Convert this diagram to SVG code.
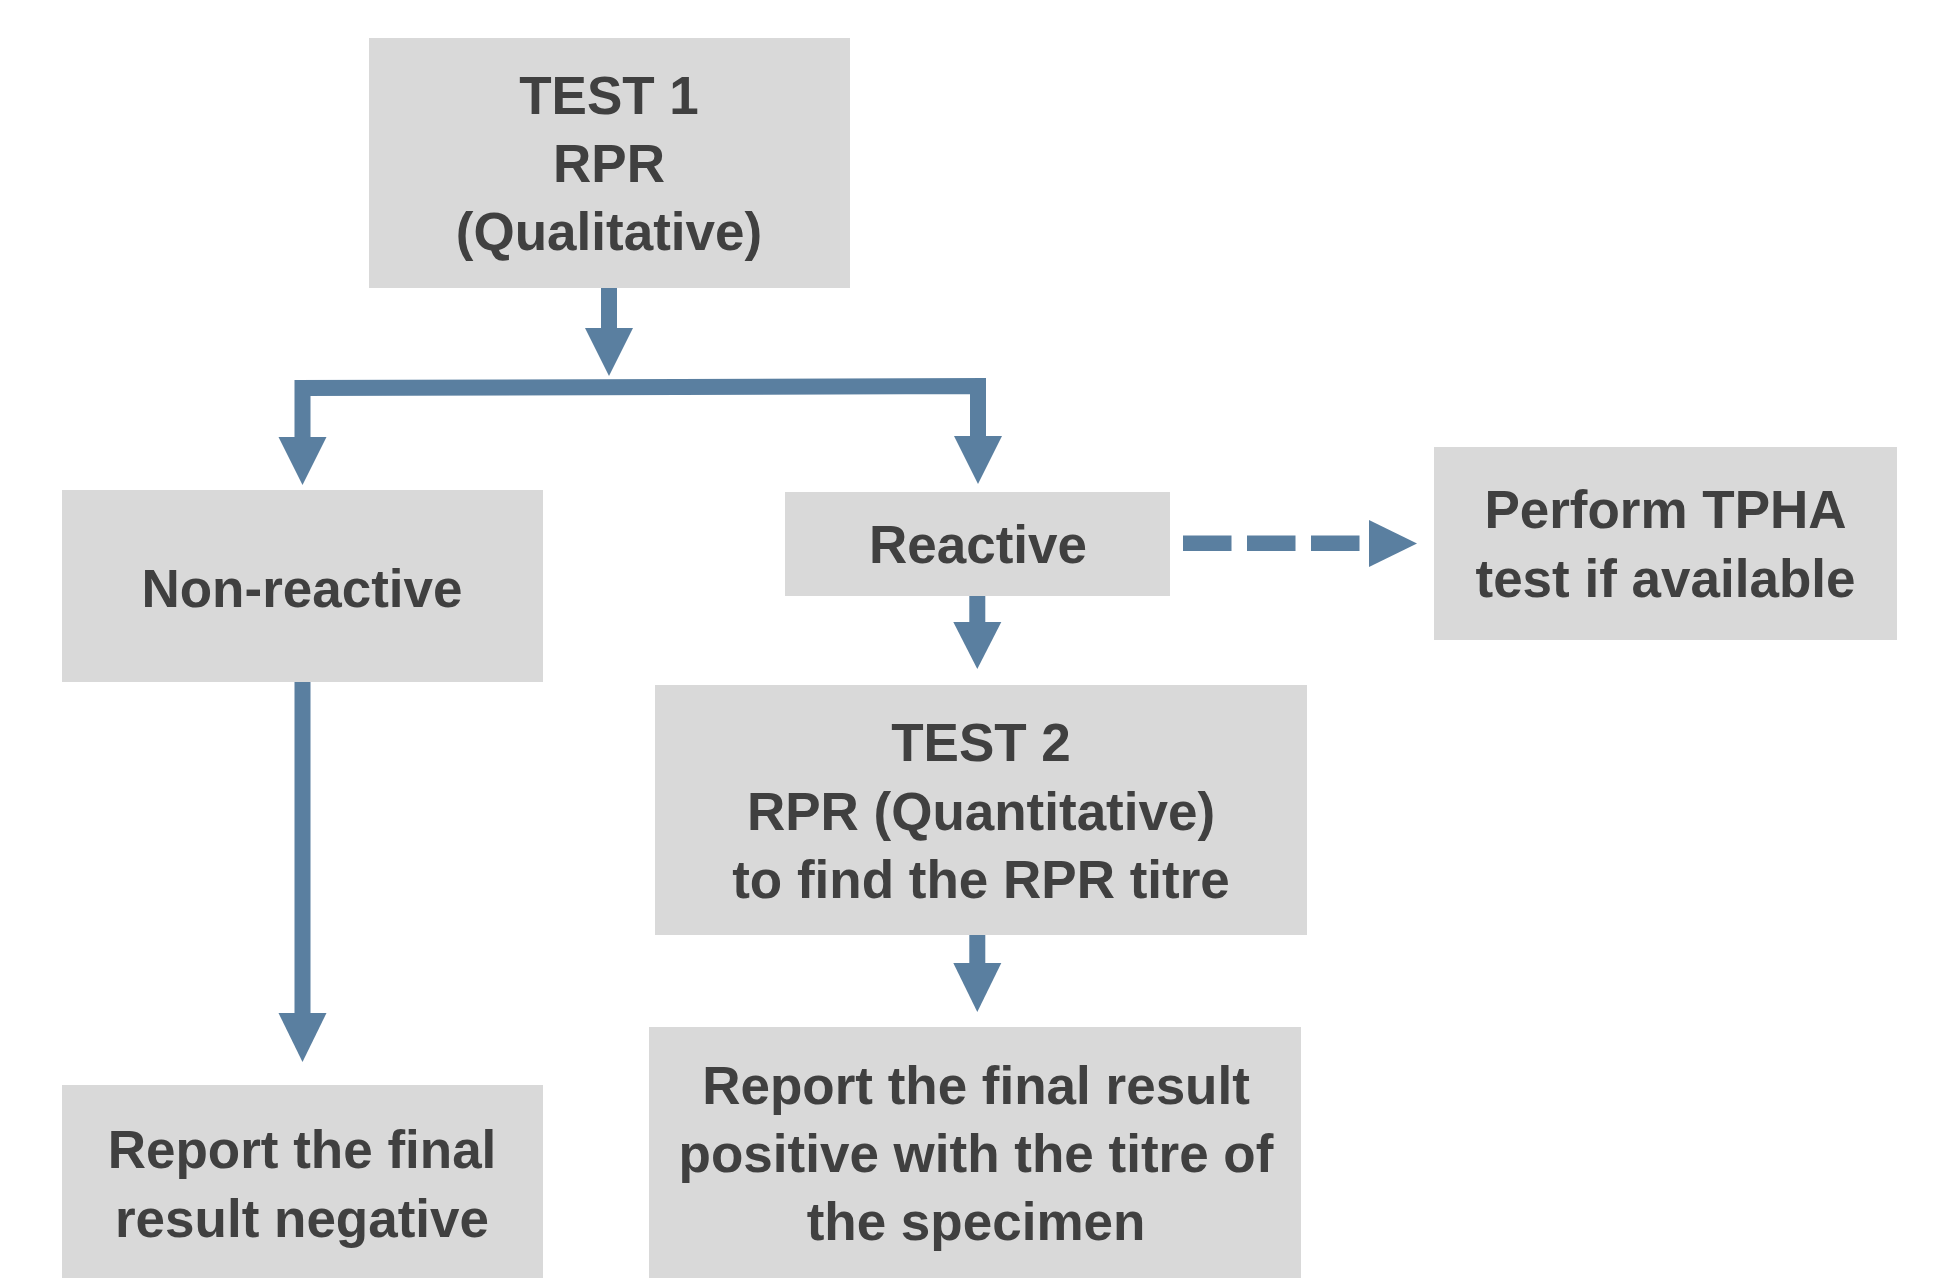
<svg xmlns="http://www.w3.org/2000/svg" width="1933" height="1278" viewBox="0 0 1933 1278">
<style>
.box{fill:#d9d9d9}
.t{font-family:"Liberation Sans",Arial,Helvetica,sans-serif;font-weight:bold;font-size:53px;fill:#404040;text-anchor:middle}
.ln{fill:none;stroke:#5a7fa0;stroke-width:16;stroke-linejoin:miter;stroke-linecap:butt}
.hd{fill:#5a7fa0}
</style>
<g id="connectors">
<line class="ln" x1="609" y1="288" x2="609" y2="329"/>
<polygon class="hd" points="585,328 633,328 609,376"/>
<path class="ln" d="M302.5,438 V388 L978,386 V437"/>
<polygon class="hd" points="278.5,437 326.5,437 302.5,485"/>
<polygon class="hd" points="954,436 1002,436 978,484"/>
<line class="ln" x1="302.5" y1="682" x2="302.5" y2="1014"/>
<polygon class="hd" points="278.5,1013 326.5,1013 302.5,1062"/>
<line class="ln" x1="977.3" y1="596" x2="977.3" y2="623"/>
<polygon class="hd" points="953.3,622 1001.3,622 977.3,669"/>
<line class="ln" x1="977.3" y1="935" x2="977.3" y2="964"/>
<polygon class="hd" points="953.3,963 1001.3,963 977.3,1012"/>
<line class="ln" x1="1183" y1="543.3" x2="1360" y2="543.3" stroke-dasharray="48.5 15.5" style="stroke-width:15.5"/>
<polygon class="hd" points="1369,520 1369,567 1417,543.5"/>
</g>
<g id="test1">
<rect class="box" x="369" y="38" width="481" height="250"/>
<text class="t" x="609" y="114">TEST 1</text>
<text class="t" x="609" y="182">RPR</text>
<text class="t" x="609" y="250">(Qualitative)</text>
</g>
<g id="nonreactive">
<rect class="box" x="62" y="490" width="481" height="192"/>
<text class="t" x="302" y="607">Non-reactive</text>
</g>
<g id="reactive">
<rect class="box" x="785" y="492" width="385" height="104"/>
<text class="t" x="978" y="563">Reactive</text>
</g>
<g id="tpha">
<rect class="box" x="1434" y="447" width="463" height="193"/>
<text class="t" x="1665.5" y="528">Perform TPHA</text>
<text class="t" x="1665.5" y="597">test if available</text>
</g>
<g id="test2">
<rect class="box" x="655" y="685" width="652" height="250"/>
<text class="t" x="981" y="761">TEST 2</text>
<text class="t" x="981" y="830">RPR (Quantitative)</text>
<text class="t" x="981" y="898">to find the RPR titre</text>
</g>
<g id="negative">
<rect class="box" x="62" y="1085" width="481" height="193"/>
<text class="t" x="302" y="1168">Report the final</text>
<text class="t" x="302" y="1237">result negative</text>
</g>
<g id="positive">
<rect class="box" x="649" y="1027" width="652" height="251"/>
<text class="t" x="976" y="1104">Report the final result</text>
<text class="t" x="976" y="1172">positive with the titre of</text>
<text class="t" x="976" y="1240">the specimen</text>
</g>
</svg>
